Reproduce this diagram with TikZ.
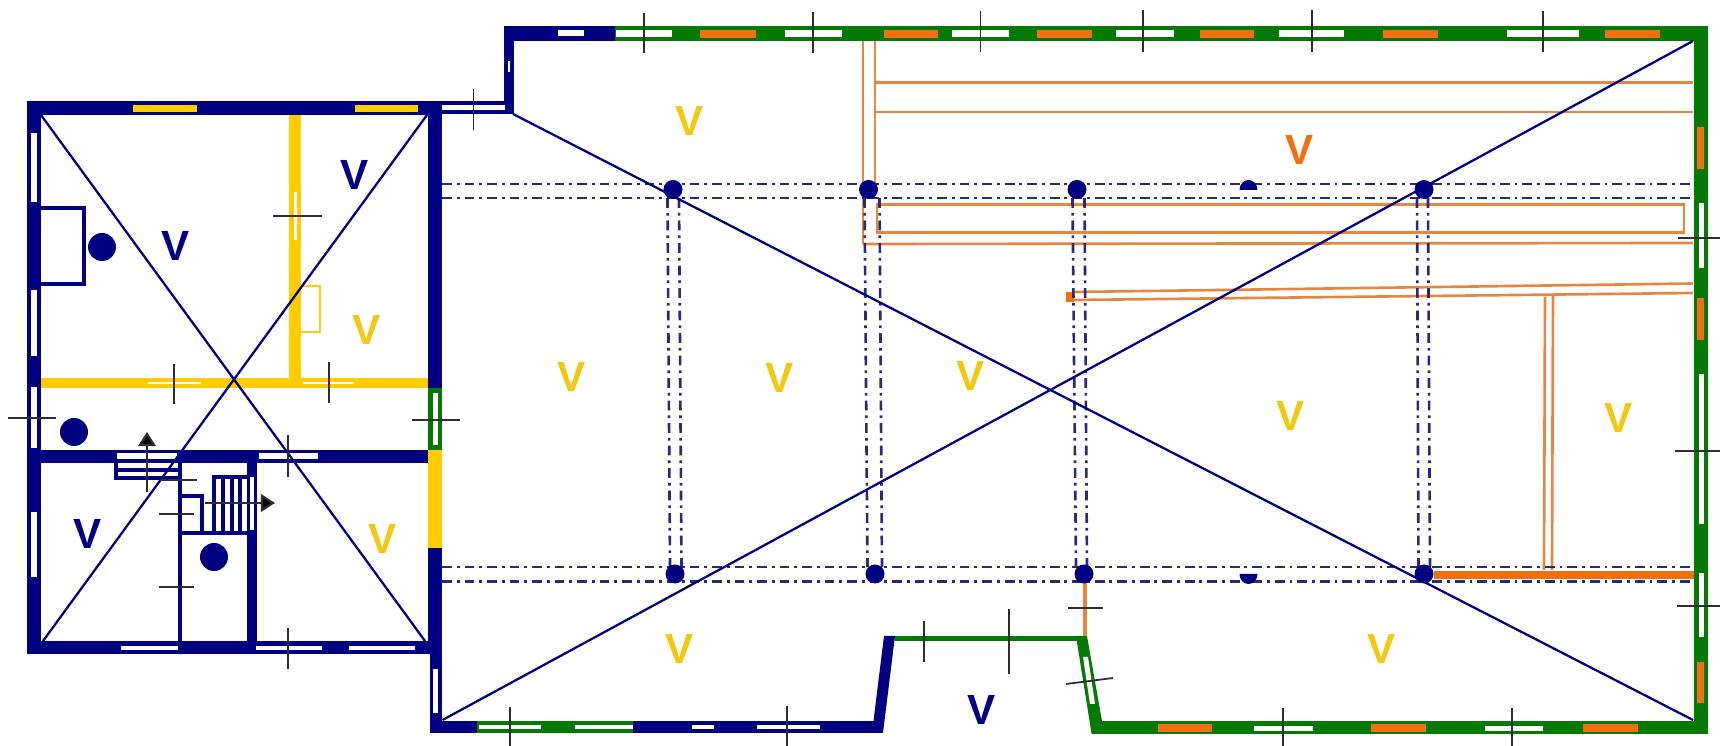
\documentclass[tikz,border=0pt]{standalone}
\usepackage{fontspec}
\setmainfont{Liberation Sans}
\usetikzlibrary{arrows.meta}
\definecolor{wallblue}{HTML}{000080}
\definecolor{wallgreen}{HTML}{047A04}
\definecolor{wallyellow}{HTML}{FFCC00}
\definecolor{wallorange}{HTML}{F0700F}
\definecolor{textyellow}{HTML}{F2C811}
\definecolor{thinorange}{HTML}{E8853F}
\definecolor{dashblue}{HTML}{2A2A78}
\definecolor{crossgray}{HTML}{2E2E2E}
\tikzset{
  vmark/.style={font=\bfseries\fontsize{12}{12}\selectfont,inner sep=0pt},
  crossmark/.style={crossgray,line width=0.5pt},
  diagline/.style={wallblue,line width=0.65pt},
  axisline/.style={dashblue,line width=0.75pt,dash pattern=on 2.8pt off 1.4pt on 0.8pt off 1.4pt},
  orangeline/.style={thinorange,line width=0.75pt},
  roomline/.style={wallblue,line width=1pt},
  stairarrow/.style={crossgray,line width=0.6pt,-{Triangle[length=4pt,width=5pt,fill=black]}}
}
\begin{document}
\begin{tikzpicture}[x=0.01cm,y=-0.01cm]
        \useasboundingbox (0,0) rectangle (1720,746);
        % walls
        \foreach \xa/\ya/\xb/\yb in {27/101/442/115,27/101/41/654,27/641/442/654,27/450/428/463,
            428/101/442/388,428/548/442/654,430/654/442/733,430/721/883/733,
            442/101/514/114,504/26/514/114,504/26/615/41,247/463/257/641,178/463/181.5/641}
          \fill[wallblue] (\xa,\ya) rectangle (\xb,\yb);
        \fill[wallblue] (884,636) -- (895,636) -- (883,733) -- (872,733) -- cycle;
        \foreach \xa/\ya/\xb/\yb in {615/26/1708/41,1693.5/26/1708/734,1091.6/721/1708/734,
            477/721/633/733,895/636/1087/641,428/388/442/450}
          \fill[wallgreen] (\xa,\ya) rectangle (\xb,\yb);
        \fill[wallgreen] (1076,636) -- (1087,636) -- (1102,721) -- (1102,734) -- (1091.6,734) -- cycle;
        \foreach \xa/\ya/\xb/\yb in {41/378/428/388,289/115/301/378,428/450/442/548,
            133/105/197/112,355/105/418/112}
          \fill[wallyellow] (\xa,\ya) rectangle (\xb,\yb);
        % white windows
        \foreach \xa/\ya/\xb/\yb in {31/133/37/202,31/290/37/356,31/387/37/448,31/512/37/577,
            117/453/177/459,259/453/318/459,250/477/254/530,
            121/646/178/650,256/646/322/650,349/646/415/650,433/393/438/445,433/669/438/713,
            442/105/505/110,558/30/584/36,508/61/510/72,
            294/192/297/240,148/382/201/384.5,303/382/354/384.5,
            478.5/725/540.5/729,575/725/633/729,692/725/714/729,757/725/820/729,
            616/30/672/37,785/30/842/37,951.5/30/1009/37,1116/30/1174/37,1279/30/1344/37,1507/30/1579/37,
            1254/726/1312.5/731,1485/726/1543/731,
            1698.5/203/1703.5/268,1698.5/374/1703.5/524,1698.5/573/1703.5/637}
          \fill[white] (\xa,\ya) rectangle (\xb,\yb);
        \fill[white] (1083,657) -- (1088,657) -- (1095,704) -- (1090,704) -- cycle;
        % orange windows
        \foreach \xa/\xb in {700/756,883.5/938,1036.5/1091.5,1200/1254,1383/1438,1605/1660}
          \fill[wallorange] (\xa,30) rectangle (\xb,38);
        \foreach \xa/\xb in {1158/1212,1371/1426,1583/1637.5}
          \fill[wallorange] (\xa,724) rectangle (\xb,732);
        \foreach \ya/\yb in {127/169,298/340,662/703}
          \fill[wallorange] (1697,\ya) rectangle (1704,\yb);
        \fill[wallorange] (1434,571) rectangle (1693.5,579);
        \fill[wallorange] (1066,292) rectangle (1074,302);
        % rooms and stairs
        \draw[roomline] (41,208) -- (84,208) -- (84,284) -- (41,284);
        \draw[wallyellow,line width=0.5pt] (301,286) -- (320,286) -- (320,332) -- (301,332);
        \draw[roomline] (116,463) -- (116,478) -- (178,478);
        \draw[roomline] (116,470) -- (178,470);
        \draw[roomline] (181,496) -- (202,496) -- (202,533);
        \draw[roomline] (181,533) -- (247,533);
        \draw[roomline] (214,533) -- (214,477) -- (247,477);
        \foreach \x in {223,232,240}
          \draw[roomline] (\x,477) -- (\x,533);
        % thin orange lines
        \draw[orangeline] (863,41) -- (863,244);
        \draw[orangeline] (875,41) -- (875,184);
        \draw[orangeline] (875,82.5) -- (1693,82.5);
        \draw[orangeline] (875,112) -- (1693,112);
        \draw[orangeline] (1684,204.5) -- (877,204.5) -- (877,232.5) -- (1684,232.5) -- cycle;
        \draw[orangeline] (863,244) -- (1693,243);
        \draw[orangeline] (1074,292) -- (1693,283.5);
        \draw[orangeline] (1074,300) -- (1693,293);
        \draw[orangeline] (1545,297) -- (1544,570);
        \draw[orangeline] (1553,295) -- (1552,570);
        \draw[thinorange,line width=0.9pt] (1085,583) -- (1085,636);
        % axes
        \foreach \y in {184,198,567,581.5}
          \draw[axisline] (442,\y) -- (1693,\y);
        \foreach \xa/\xb in {667.5/670,679/681.5,864.5/867.5,879.5/882,1072.5/1076,1084.5/1087,1417/1418.5,1428/1430}
          \draw[axisline] (\xa,198) -- (\xb,567);
        % diagonals
        \draw[diagline] (41,115) -- (425,641);
        \draw[diagline] (427,115) -- (43,641);
        \draw[diagline] (513,114) -- (1693,720);
        \draw[diagline] (1693,41) -- (442.5,720);
        % posts
        \foreach \x/\y/\r in {102/247/14,74/432/14,214/557/14,
            673/189.5/9.5,868.5/189.5/9.5,1077/189.5/9.5,1424/189.5/9.5,
            675/574/9.5,875/574/9.5,1084/574/9.5,1424/574/9.5}
          \fill[wallblue] (\x,\y) circle (\r);
        \fill[wallblue] (1239.5,190) arc (180:360:9 and 10) -- cycle;
        \fill[wallblue] (1239.5,574) arc (180:0:9 and 10) -- cycle;
        % cross marks
        \foreach \xa/\ya/\xb/\yb in {273/216/322/216,174/364/174/404,329/362/329/403,8/418/56/418,412/420/460/420,
            288/435/288/477,288/628/288/669,160/480/197/480,159/514/194/514,159/587/194/587,
            473.5/89/473.5/130,644/13/644/53,813/12/813/53,980.5/11/980.5/52,1143/10/1143/52,1312/10/1312/52,1543/11/1543/52,
            510/707/510/746,787/706/787/746,924/621/924/662,1009/609/1009/674,1283/708/1283/746,1512/708/1512/746,
            1678/238/1720/238,1675/451/1720/451,1677/606/1720/606,1068/608/1103/608,1066/684/1113/678}
          \draw[crossmark] (\xa,\ya) -- (\xb,\yb);
        \draw[stairarrow] (147,492) -- (147,432);
        \draw[stairarrow] (205,503) -- (275,503);
        % room marks
        \node[vmark,wallblue] (vbedroom) at (176,246) {V};
        \node[vmark,wallblue] (vstudy) at (355,175) {V};
        \node[vmark,textyellow] (vpantry) at (367,330) {V};
        \node[vmark,wallblue] (vkitchen) at (88,534) {V};
        \node[vmark,textyellow] (vbath) at (383,539) {V};
        \node[vmark,textyellow] (vnorth) at (689.5,121) {V};
        \node[vmark,wallorange] (vloft) at (1300,150) {V};
        \node[vmark,textyellow] (vbayone) at (571.5,377) {V};
        \node[vmark,textyellow] (vbaytwo) at (780,378) {V};
        \node[vmark,textyellow] (vbaythree) at (971,376) {V};
        \node[vmark,textyellow] (vbayfour) at (1290.5,415.5) {V};
        \node[vmark,textyellow] (vbayfive) at (1618.5,418) {V};
        \node[vmark,textyellow] (vsouth) at (680,649) {V};
        \node[vmark,textyellow] (vsoutheast) at (1382,649) {V};
        \node[vmark,wallblue] (vporch) at (981.5,710) {V};
      \end{tikzpicture}
\end{document}
